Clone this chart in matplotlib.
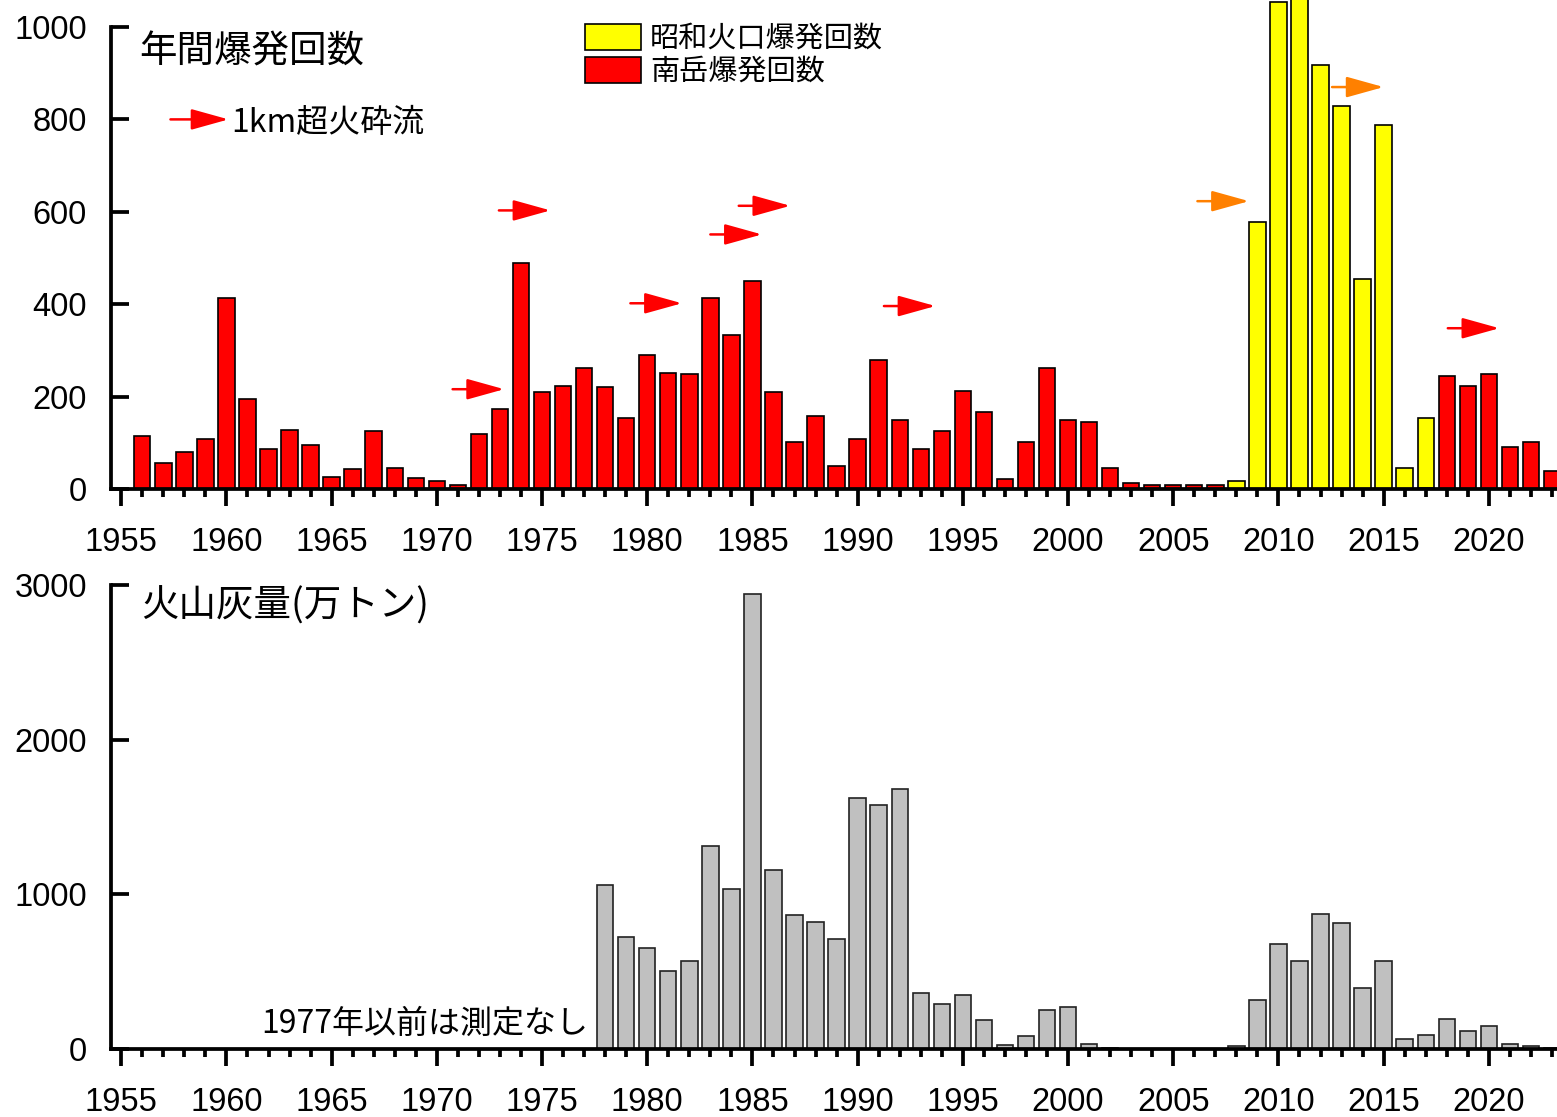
import numpy as np
import matplotlib.pyplot as plt
from matplotlib.patches import Patch

plt.rcParams['font.family'] = ['Noto Sans CJK JP', 'DejaVu Sans']

# years 1955-2023
years = np.arange(1955, 2024)

# Minamidake explosions per year
minamidake = [0, 115, 56, 80, 109, 413, 195, 87, 128, 96,
              27, 43, 125, 46, 24, 17, 9, 119, 173, 489,
              210, 222, 261, 220, 154, 289, 251, 248, 413, 334,
              451, 210, 102, 159, 49, 109, 280, 150, 87, 125,
              213, 166, 21, 102, 261, 150, 146, 46, 14, 8,
              8, 8, 8, 0, 0, 0, 0, 0, 0, 0,
              0, 0, 3, 244, 223, 248, 91, 102, 38]

# Showa crater explosions per year (2008-2017)
showa = [0] * 53 + [17, 578, 1054, 1355, 917, 830, 455, 787, 46, 151] + [0] * 6

# volcanic ash (10^4 t), measured from 1978
ash_years = np.arange(1978, 2024)
ash = [1059, 719, 652, 500, 564, 1309, 1031, 2943, 1153, 867,
       821, 710, 1623, 1574, 1678, 363, 289, 344, 183, 21,
       79, 250, 271, 30, 6, 0, 0, 0, 0, 0,
       15, 317, 678, 564, 869, 812, 395, 564, 60, 88,
       192, 116, 146, 28, 16, 6]

# pyroclastic flows > 1 km: arrow tip year, height, colour
flow_tip = [1973.2, 1975.4, 1981.65, 1985.45, 1986.8, 1993.7, 2008.6, 2015.0, 2020.5]
flow_y = [216, 603, 402, 551, 613, 396, 623, 870, 348]
flow_col = ['red'] * 6 + ['#ff8000'] * 2 + ['red']

minamidake = np.array(minamidake)
showa = np.array(showa)
ash = np.array(ash)

fig = plt.figure(figsize=(15.57, 11.17), dpi=100)
W, H = 1557, 1117
ax1 = fig.add_axes([110.7 / W, 1 - 489 / H, 1 - 110.7 / W, (489 - 27) / H])
ax2 = fig.add_axes([110.7 / W, 1 - 1048.6 / H, 1 - 110.7 / W, (1048.6 - 585) / H])

bw = 0.78
m = minamidake > 0
ax1.bar(years[m], minamidake[m], width=bw, color='#ff0000', edgecolor='black',
        linewidth=1.2, clip_on=False, zorder=3)
s = showa > 0
ax1.bar(years[s], showa[s], width=bw, bottom=minamidake[s], color='#ffff00',
        edgecolor='black', linewidth=1.2, clip_on=False, zorder=3)

a = ash > 0
ax2.bar(ash_years[a], ash[a], width=bw, color='#c0c0c0', edgecolor='#222222',
        linewidth=1.2, clip_on=False, zorder=3)

for ax, top, step in [(ax1, 1000, 200), (ax2, 3000, 1000)]:
    ax.set_xlim(1954.5, 2023.24)
    ax.set_ylim(0, top)
    ax.spines['top'].set_visible(False)
    ax.spines['right'].set_visible(False)
    ax.spines['left'].set_linewidth(2.7)
    ax.spines['bottom'].set_linewidth(2.7)
    ax.spines['bottom'].set_zorder(4)
    ax.set_yticks(np.arange(0, top + 1, step))
    ax.set_xticks(np.arange(1955, 2021, 5))
    ax.set_xticks(np.arange(1955, 2024), minor=True)
    ax.tick_params(axis='y', direction='in', length=13, width=2.7, pad=17)
    ax.tick_params(axis='x', which='major', direction='out', length=12, width=2.7, pad=15.5)
    ax.tick_params(axis='x', which='minor', direction='out', length=6, width=2.7)
    for lab in ax.get_xticklabels() + ax.get_yticklabels():
        lab.set_fontfamily('Liberation Sans')
        lab.set_fontsize(23.5)

# top panel annotations
ax1.text(1955.84, 946, '年間爆発回数', fontsize=27, va='center', ha='left')
for tip, y, c in zip(flow_tip, flow_y, flow_col):
    ax1.annotate('', xy=(tip, y), xytext=(tip - 2.45, y),
                 arrowprops=dict(arrowstyle='-|>,head_length=1.15,head_width=0.32',
                                 mutation_scale=20, color=c, lw=1.8,
                                 shrinkA=0, shrinkB=0),
                 annotation_clip=False, zorder=5)
ax1.annotate('', xy=(1960.1, 800), xytext=(1957.34, 800),
             arrowprops=dict(arrowstyle='-|>,head_length=1.15,head_width=0.32',
                             mutation_scale=20, color='red', lw=1.8,
                             shrinkA=0, shrinkB=0))
ax1.text(1960.25, 792, '1km超火砕流', fontsize=23, va='center', ha='left')

handles = [Patch(facecolor='#ffff00', edgecolor='black', linewidth=1.2, label='昭和火口爆発回数'),
           Patch(facecolor='#ff0000', edgecolor='black', linewidth=1.2, label='南岳爆発回数')]
fig.legend(handles=handles, loc='upper left', bbox_to_anchor=(584.6 / W, 1 - 24 / H),
           bbox_transform=fig.transFigure, frameon=False, fontsize=21,
           borderpad=0, borderaxespad=0, handlelength=1.92, handleheight=0.96,
           handletextpad=0.33, labelspacing=0.1)

# bottom panel annotations
ax2.text(1955.94, 2865, '火山灰量(万トン)', fontsize=27, va='center', ha='left')
ax2.text(1977.18, 159, '1977年以前は測定なし', fontsize=23, va='center', ha='right')

fig.savefig('out.png', dpi=100)
